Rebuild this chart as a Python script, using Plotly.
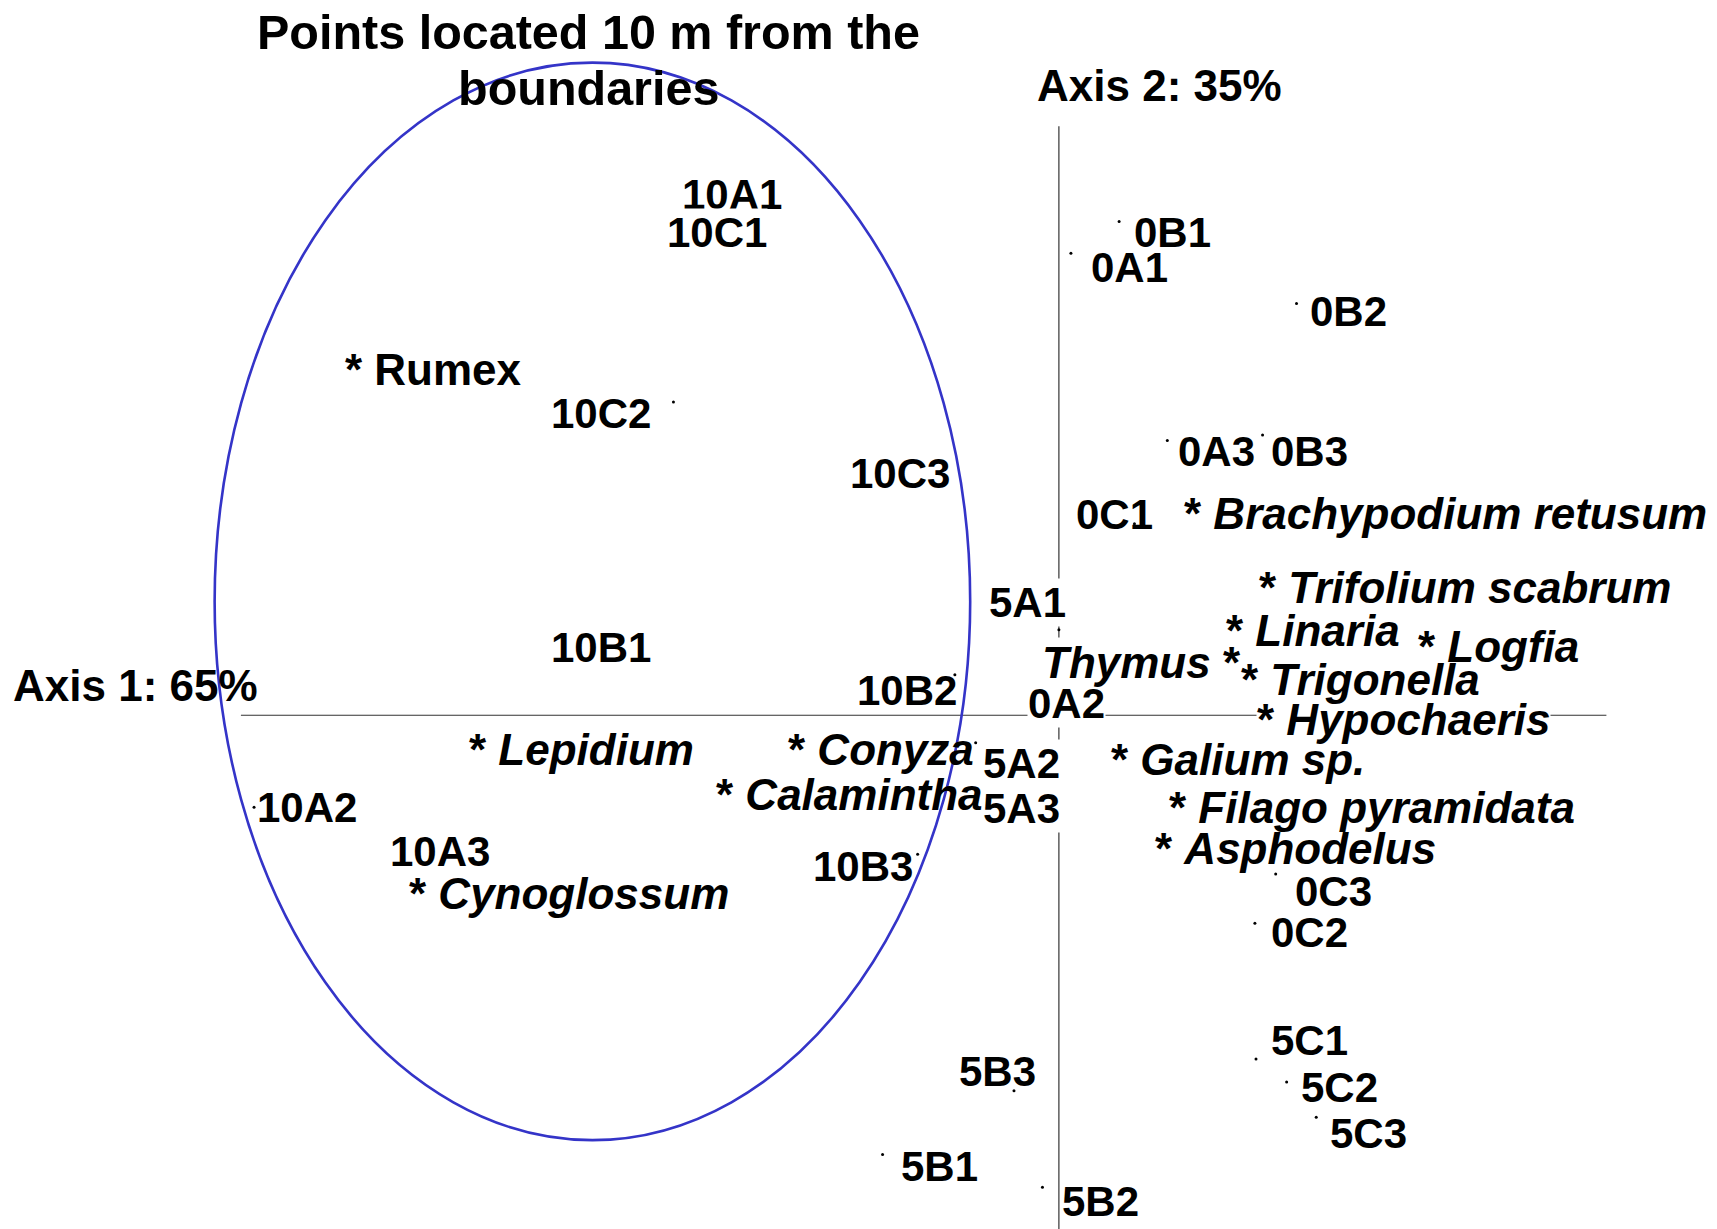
import plotly.graph_objects as go

# ---------------- data (ordination scores, axis 1 / axis 2) ----------------
site_names = ["0B1", "0A1", "0B2", "0A3", "0B3", "0C1", "0A2", "0C3", "0C2",
              "5A1", "5A2", "5A3", "5B1", "5B2", "5B3", "5C1", "5C2", "5C3",
              "10A1", "10C1", "10C2", "10C3", "10B1", "10B2", "10B3", "10A2", "10A3"]
site_ax1 = [0.22, 0.044, 0.868, 0.396, 0.744, 0.276, 0.072, 0.792, 0.716,
            0.0, -0.304, -0.324, -0.644, -0.06, -0.164, 0.72, 0.832, 0.94,
            -1.188, -1.248, -1.408, -0.548, -1.668, -0.38, -0.516, -2.94, -2.268]
site_ax2 = [1.804, 1.688, 1.504, 1.004, 1.024, 0.70, 0.044, -0.58, -0.76,
            0.312, -0.10, -0.268, -1.604, -1.724, -1.372, -1.256, -1.34, -1.468,
            1.90, 1.764, 1.144, 0.884, 0.252, 0.148, -0.508, -0.336, -0.50]

species_names = ["Rumex", "Brachypodium retusum", "Trifolium scabrum", "Linaria",
                 "Logfia", "Thymus", "Trigonella", "Hypochaeris", "Galium sp.",
                 "Filago pyramidata", "Asphodelus", "Lepidium", "Conyza",
                 "Calamintha", "Cynoglossum"]
species_ax1 = [-2.60, 0.464, 0.74, 0.62, 1.32, 0.612, 0.672, 0.732, 0.20,
               0.412, 0.36, -2.148, -0.98, -1.244, -2.364]
species_ax2 = [1.264, 0.736, 0.468, 0.308, 0.252, 0.192, 0.132, -0.016, -0.16,
               -0.336, -0.488, -0.124, -0.124, -0.288, -0.652]

axis1_label = "Axis 1: 65%"
axis2_label = "Axis 2: 35%"
title_lines = ["Points located 10 m from the", "boundaries"]

# ---------------- layout / styling ----------------
W, H = 1717, 1229
PAGE_OFF = 8            # default body margin of the html page
S = 1717 / 1568         # reference px (as measured) -> page px
UNIT = 250 * S          # page px per score unit
ORIG_X, ORIG_Y = 967 * S, 653 * 1229 / 1122   # page px of the axes crossing
LX = -3.3               # small left nudge of left-anchored labels (px)

x_range = [(PAGE_OFF - ORIG_X) / UNIT, (PAGE_OFF + W - ORIG_X) / UNIT]
y_range = [(ORIG_Y - PAGE_OFF - H) / UNIT, (ORIG_Y - PAGE_OFF) / UNIT]


def paper_x(px):
    return (px * S - PAGE_OFF) / W


def paper_y(py):
    return 1 - (py * 1229 / 1122 - PAGE_OFF) / H


site_offsets = {
    "0B1": (16, 10), "0A1": (20, 13), "0B2": (14, 7), "0A3": (12, 10),
    "0B3": (10, 15), "0C1": (-51, -8), "0A2": (-44, 0), "0C3": (20, 16),
    "0C2": (17, 8), "5A1": (-62, -25), "5A2": (9, 19), "5A3": (14, 18),
    "5B1": (19, 11), "5B2": (20, 13), "5B3": (-48, -18), "5C1": (16, -17),
    "5C2": (15, 5), "5C3": (15, 15), "10A1": (-45, -1), "10C1": (-44, 0),
    "10C2": (-110, 10), "10C3": (-52, 0), "10B1": (-45, 1), "10B2": (-87, 14),
    "10B3": (-93, 11), "10A2": (5, 0), "10A3": (-42, -1),
}
masking_labels = {"0A2", "5A1", "5A2", "5A3", "Thymus", "Hypochaeris",
                  "10A1", "10C1", "10B1", "10A3", "10C3"}
upright_species = {"Rumex"}

FONT = "Liberation Sans, Arial, sans-serif"
FS_SITE = 42
FS_SPEC = 44
FS_AXIS = 44
FS_TITLE = 48.5

fig = go.Figure()

fig.add_trace(go.Scatter(
    x=site_ax1, y=site_ax2, mode="markers", text=site_names,
    marker=dict(size=3, color="black"), hoverinfo="text",
))
fig.add_trace(go.Scatter(
    x=species_ax1, y=species_ax2, mode="markers", text=species_names,
    marker=dict(size=1, color="rgba(0,0,0,0)"), hoverinfo="text",
))

# axis lines and ellipse
fig.add_shape(type="line", x0=-2.988, x1=2.0, y0=0, y1=0,
              line=dict(color="#333333", width=1.2), layer="below")
fig.add_shape(type="line", x0=0, x1=0, y0=-1.95, y1=2.152,
              line=dict(color="#333333", width=1.2), layer="below")
fig.add_shape(type="circle", x0=-3.084, x1=-0.324, y0=-1.552, y1=2.384,
              line=dict(color="#3434C8", width=2.6), layer="above")

masked, plain = [], []
for n, x, y in zip(site_names, site_ax1, site_ax2):
    dx, dy = site_offsets[n]
    ann = dict(x=x, y=y, xref="x", yref="y", text=n, showarrow=False,
               xanchor="left", yanchor="middle", xshift=dx * S + LX, yshift=-dy * S,
               font=dict(family=FONT, size=FS_SITE, color="black", weight="bold"),
               borderpad=0)
    if n in masking_labels:
        ann["bgcolor"] = "white"
        masked.append(ann)
    else:
        plain.append(ann)

for n, x, y in zip(species_names, species_ax1, species_ax2):
    if n == "Thymus":
        ann = dict(x=x, y=y, xref="x", yref="y", text="<i>Thymus</i> *", showarrow=False,
                   xanchor="right", yanchor="middle", xshift=14 * S,
                   font=dict(family=FONT, size=FS_SPEC, color="black", weight="bold"),
                   borderpad=0)
    else:
        txt = "* " + (n if n in upright_species else "<i>" + n + "</i>")
        ann = dict(x=x, y=y, xref="x", yref="y", text=txt, showarrow=False,
                   xanchor="left", yanchor="middle", xshift=LX,
                   font=dict(family=FONT, size=FS_SPEC, color="black", weight="bold"),
                   borderpad=0)
    if n in masking_labels:
        ann["bgcolor"] = "white"
        masked.append(ann)
    else:
        plain.append(ann)

annotations = masked + plain
annotations.append(dict(x=paper_x(13), y=paper_y(626), xref="paper", yref="paper",
                        text=axis1_label, showarrow=False, xanchor="left", yanchor="middle",
                        xshift=LX,
                        font=dict(family=FONT, size=FS_AXIS, color="black", weight="bold")))
annotations.append(dict(x=paper_x(948), y=paper_y(78), xref="paper", yref="paper",
                        text=axis2_label, showarrow=False, xanchor="left", yanchor="middle",
                        xshift=LX,
                        font=dict(family=FONT, size=FS_AXIS, color="black", weight="bold")))
annotations.append(dict(x=paper_x(537), y=paper_y(29), xref="paper", yref="paper",
                        text=title_lines[0], showarrow=False, xanchor="center", yanchor="middle",
                        font=dict(family=FONT, size=FS_TITLE, color="black", weight="bold")))
annotations.append(dict(x=paper_x(537), y=paper_y(80), xref="paper", yref="paper",
                        text=title_lines[1], showarrow=False, xanchor="center", yanchor="middle",
                        font=dict(family=FONT, size=FS_TITLE, color="black", weight="bold")))

fig.update_layout(
    width=W, height=H,
    margin=dict(l=0, r=0, t=0, b=0),
    paper_bgcolor="white", plot_bgcolor="white",
    showlegend=False,
    xaxis=dict(range=x_range, visible=False, fixedrange=True),
    yaxis=dict(range=y_range, visible=False, fixedrange=True),
    annotations=annotations,
)

fig.write_html("out.html")
